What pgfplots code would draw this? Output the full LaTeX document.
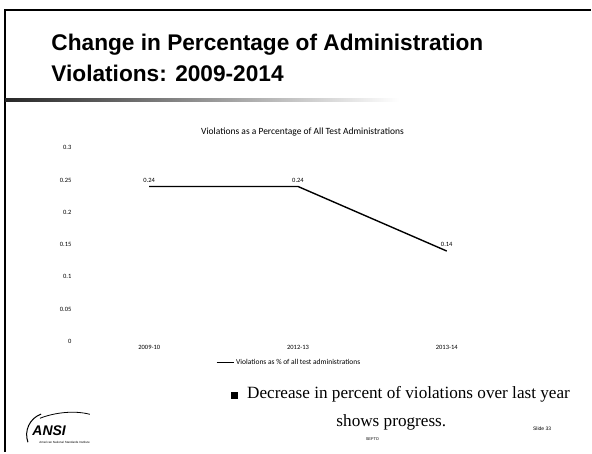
\documentclass[border=0pt]{standalone}
\usepackage{fontspec}
\setmainfont{Liberation Serif}
\newfontfamily\arial{Liberation Sans}
\newfontfamily\calibri{Carlito}
\usepackage{pgfplots}
\pgfplotsset{compat=1.18}

\begin{document}
\begin{tikzpicture}[x=1pt,y=1pt]
% page
\path (0,0) rectangle (592,453);
% slide frame
\draw[line width=2pt] (5,0) -- (5,443) -- (592,443);
\shade[left color=black!85, right color=white] (5,351.5) rectangle (400,354);

% slide title
\node[anchor=west, font=\arial\bfseries\fontsize{22.7}{32}\selectfont, align=left] at (48,395)
  {Change in Percentage of Administration\\Violations: 2009-2014};

% chart title
\node[font=\calibri\fontsize{9.5}{11}\selectfont] at (303,321) {Violations as a Percentage of All Test Administrations};

\begin{axis}[
    at={(75pt,111pt)}, anchor=south west,
    scale only axis,
    width=447pt, height=194pt,
    xmin=-0.5, xmax=2.5,
    ymin=0, ymax=0.3,
    axis line style={draw=none},
    tick style={draw=none},
    xtick={0,1,2},
    xticklabels={2009-10,2012-13,2013-14},
    ytick={0,0.05,0.1,0.15,0.2,0.25,0.3},
    yticklabel style={/pgf/number format/fixed, /pgf/number format/precision=2},
    /pgf/number format/assume math mode=true,
    ticklabel style={font=\calibri\fontsize{6.5}{7.5}\selectfont},
    nodes near coords,
    nodes near coords style={font=\calibri\fontsize{6.5}{7.5}\selectfont, /pgf/number format/fixed, /pgf/number format/precision=2},
    legend style={at={(0.48,-0.07)}, anchor=north, draw=none, fill=none,
        font=\calibri\fontsize{7.5}{8.5}\selectfont},
    legend cell align=left,
]
\addplot[black, line width=1.4pt, mark=none] coordinates {(0,0.24) (1,0.24) (2,0.14)};
\addlegendentry{Violations as \% of all test administrations}
\end{axis}

% bullet text
\node[anchor=west, font=\fontsize{17.2}{21}\selectfont] at (228,58) {\rule{7pt}{7pt}\hspace{9pt}Decrease in percent of violations over last year};
\node[font=\fontsize{17.2}{21}\selectfont] at (392,30) {shows progress.};

% logo and footer
\draw[line width=1pt] (28,10) arc[start angle=200, end angle=110, radius=22];
\draw[line width=0.8pt] (40,34) .. controls (55,40) and (75,42) .. (90,38);
\node[anchor=west, font=\arial\bfseries\itshape\fontsize{14}{15}\selectfont] at (29,22) {ANSI};
\node[anchor=west, font=\arial\fontsize{3}{4}\selectfont] at (36,10) {American National Standards Institute};
\node[font=\arial\fontsize{4}{5}\selectfont] at (373,13) {SEFTO};
\node[font=\arial\fontsize{5}{6}\selectfont] at (543,24) {Slide 33};
\end{tikzpicture}
\end{document}
